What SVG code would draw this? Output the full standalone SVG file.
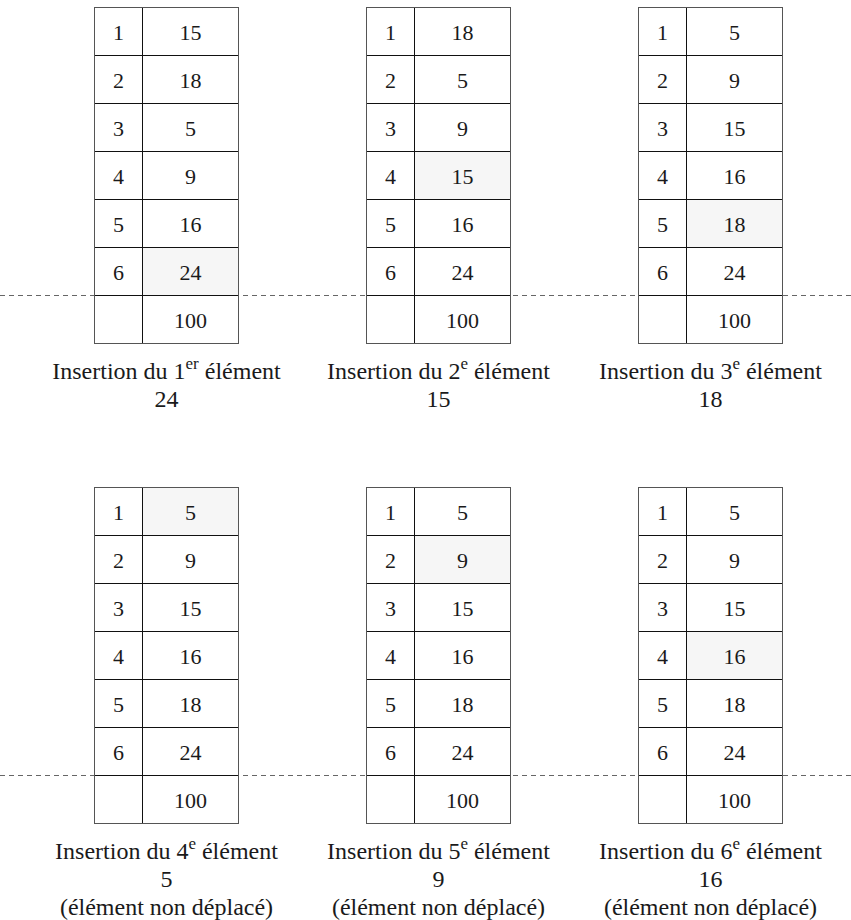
<svg xmlns="http://www.w3.org/2000/svg" width="851" height="920" viewBox="0 0 851 920">
<style>
text{font-family:'Liberation Serif';font-size:22px;fill:#1a1a1a;text-anchor:middle}
.cap{font-size:24px}
.sup{font-size:17px}
.o{fill:none;stroke:#555;stroke-width:1}
.i{stroke:#111;stroke-width:1;fill:none}
.bg{fill:#fff}
.hl{fill:#f6f6f6}
.dash{stroke:#666;stroke-width:1;stroke-dasharray:5 4;fill:none}
</style>
<defs>
<g id="grid">
<rect class="bg" x="0" y="0" width="144" height="336"/>
</g>
<g id="lines">
<path class="i" d="M48 0V336M0 48H144M0 96H144M0 144H144M0 192H144M0 240H144M0 288H144"/>
<rect class="o" x="0" y="0" width="144" height="336"/>
</g>
</defs>
<g id="connectors">
<line class="dash" x1="0" y1="295.5" x2="851" y2="295.5"/>
<line class="dash" x1="0" y1="775.5" x2="851" y2="775.5"/>
</g>
<g id="t1" transform="translate(94.5,7.5)">
<use href="#grid"/>
<rect class="hl" x="48" y="240" width="96" height="48"/>
<use href="#lines"/>
<text x="24" y="32">1</text><text x="96" y="32">15</text>
<text x="24" y="80">2</text><text x="96" y="80">18</text>
<text x="24" y="128">3</text><text x="96" y="128">5</text>
<text x="24" y="176">4</text><text x="96" y="176">9</text>
<text x="24" y="224">5</text><text x="96" y="224">16</text>
<text x="24" y="272">6</text><text x="96" y="272">24</text>
<text x="96" y="320">100</text>
<text class="cap" x="72" y="371">Insertion du 1<tspan class="sup" dy="-10">er</tspan><tspan dy="10"> élément</tspan></text>
<text class="cap" x="72" y="399">24</text>
</g>
<g id="t2" transform="translate(366.5,7.5)">
<use href="#grid"/>
<rect class="hl" x="48" y="144" width="96" height="48"/>
<use href="#lines"/>
<text x="24" y="32">1</text><text x="96" y="32">18</text>
<text x="24" y="80">2</text><text x="96" y="80">5</text>
<text x="24" y="128">3</text><text x="96" y="128">9</text>
<text x="24" y="176">4</text><text x="96" y="176">15</text>
<text x="24" y="224">5</text><text x="96" y="224">16</text>
<text x="24" y="272">6</text><text x="96" y="272">24</text>
<text x="96" y="320">100</text>
<text class="cap" x="72" y="371">Insertion du 2<tspan class="sup" dy="-10">e</tspan><tspan dy="10"> élément</tspan></text>
<text class="cap" x="72" y="399">15</text>
</g>
<g id="t3" transform="translate(638.5,7.5)">
<use href="#grid"/>
<rect class="hl" x="48" y="192" width="96" height="48"/>
<use href="#lines"/>
<text x="24" y="32">1</text><text x="96" y="32">5</text>
<text x="24" y="80">2</text><text x="96" y="80">9</text>
<text x="24" y="128">3</text><text x="96" y="128">15</text>
<text x="24" y="176">4</text><text x="96" y="176">16</text>
<text x="24" y="224">5</text><text x="96" y="224">18</text>
<text x="24" y="272">6</text><text x="96" y="272">24</text>
<text x="96" y="320">100</text>
<text class="cap" x="72" y="371">Insertion du 3<tspan class="sup" dy="-10">e</tspan><tspan dy="10"> élément</tspan></text>
<text class="cap" x="72" y="399">18</text>
</g>
<g id="t4" transform="translate(94.5,487.5)">
<use href="#grid"/>
<rect class="hl" x="48" y="0" width="96" height="48"/>
<use href="#lines"/>
<text x="24" y="32">1</text><text x="96" y="32">5</text>
<text x="24" y="80">2</text><text x="96" y="80">9</text>
<text x="24" y="128">3</text><text x="96" y="128">15</text>
<text x="24" y="176">4</text><text x="96" y="176">16</text>
<text x="24" y="224">5</text><text x="96" y="224">18</text>
<text x="24" y="272">6</text><text x="96" y="272">24</text>
<text x="96" y="320">100</text>
<text class="cap" x="72" y="371">Insertion du 4<tspan class="sup" dy="-10">e</tspan><tspan dy="10"> élément</tspan></text>
<text class="cap" x="72" y="399">5</text>
<text class="cap" x="72" y="427.5">(élément non déplacé)</text>
</g>
<g id="t5" transform="translate(366.5,487.5)">
<use href="#grid"/>
<rect class="hl" x="48" y="48" width="96" height="48"/>
<use href="#lines"/>
<text x="24" y="32">1</text><text x="96" y="32">5</text>
<text x="24" y="80">2</text><text x="96" y="80">9</text>
<text x="24" y="128">3</text><text x="96" y="128">15</text>
<text x="24" y="176">4</text><text x="96" y="176">16</text>
<text x="24" y="224">5</text><text x="96" y="224">18</text>
<text x="24" y="272">6</text><text x="96" y="272">24</text>
<text x="96" y="320">100</text>
<text class="cap" x="72" y="371">Insertion du 5<tspan class="sup" dy="-10">e</tspan><tspan dy="10"> élément</tspan></text>
<text class="cap" x="72" y="399">9</text>
<text class="cap" x="72" y="427.5">(élément non déplacé)</text>
</g>
<g id="t6" transform="translate(638.5,487.5)">
<use href="#grid"/>
<rect class="hl" x="48" y="144" width="96" height="48"/>
<use href="#lines"/>
<text x="24" y="32">1</text><text x="96" y="32">5</text>
<text x="24" y="80">2</text><text x="96" y="80">9</text>
<text x="24" y="128">3</text><text x="96" y="128">15</text>
<text x="24" y="176">4</text><text x="96" y="176">16</text>
<text x="24" y="224">5</text><text x="96" y="224">18</text>
<text x="24" y="272">6</text><text x="96" y="272">24</text>
<text x="96" y="320">100</text>
<text class="cap" x="72" y="371">Insertion du 6<tspan class="sup" dy="-10">e</tspan><tspan dy="10"> élément</tspan></text>
<text class="cap" x="72" y="399">16</text>
<text class="cap" x="72" y="427.5">(élément non déplacé)</text>
</g>
</svg>
